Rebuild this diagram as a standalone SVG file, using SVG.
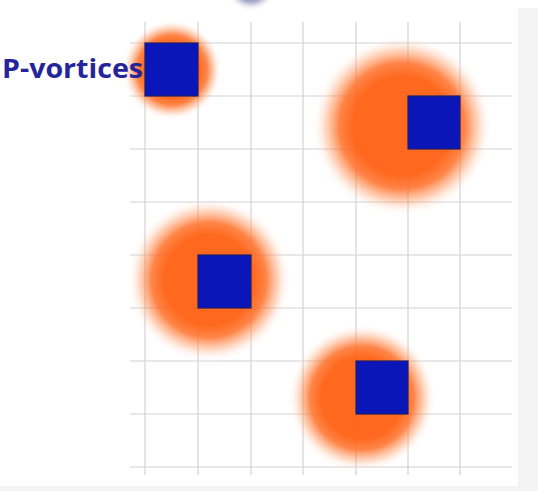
<svg xmlns="http://www.w3.org/2000/svg" width="538" height="491" viewBox="0 0 538 491">
  <defs>
    <radialGradient id="glow" cx="0.5" cy="0.5" r="0.5">
      <stop offset="0" stop-color="#ff6418" stop-opacity="0.97"/>
      <stop offset="0.55" stop-color="#ff6418" stop-opacity="0.97"/>
      <stop offset="0.7" stop-color="#ff6a20" stop-opacity="0.82"/>
      <stop offset="0.85" stop-color="#ff8a4a" stop-opacity="0.33"/>
      <stop offset="1" stop-color="#ffffff" stop-opacity="0"/>
    </radialGradient>
    <filter id="soft" x="-50%" y="-50%" width="200%" height="200%">
      <feGaussianBlur stdDeviation="3"/>
    </filter>
    <style>
      .grid line { stroke: #d2d2d6; stroke-width: 1.2; }
      .blob { fill: url(#glow); }
      .vortex { fill: #0a16b8; stroke: #1c1e6a; stroke-width: 1.2; }
      .label { font-family: "Open Sans", "Liberation Sans", sans-serif; font-weight: bold; font-size: 27px; fill: #26249a; }
    </style>
  </defs>
  <rect width="538" height="491" fill="#ffffff"/>
  <rect x="518" y="8" width="20" height="483" fill="#f3f3f4"/>
  <rect x="0" y="486" width="538" height="5" fill="#f3f3f4"/>
  <ellipse cx="251" cy="-12" rx="18" ry="16" fill="#8a90b8" filter="url(#soft)"/>

  <g id="grid" class="grid">
    <line x1="145" y1="22" x2="145" y2="475"/>
    <line x1="198" y1="22" x2="198" y2="475"/>
    <line x1="251" y1="22" x2="251" y2="475"/>
    <line x1="303" y1="22" x2="303" y2="475"/>
    <line x1="356" y1="22" x2="356" y2="475"/>
    <line x1="408" y1="22" x2="408" y2="475"/>
    <line x1="460" y1="22" x2="460" y2="475"/>
    <line x1="130" y1="43" x2="512" y2="43"/>
    <line x1="130" y1="96" x2="512" y2="96"/>
    <line x1="130" y1="149" x2="512" y2="149"/>
    <line x1="130" y1="202" x2="512" y2="202"/>
    <line x1="130" y1="255" x2="512" y2="255"/>
    <line x1="130" y1="308" x2="512" y2="308"/>
    <line x1="130" y1="361" x2="512" y2="361"/>
    <line x1="130" y1="414" x2="512" y2="414"/>
    <line x1="130" y1="467" x2="512" y2="467"/>
  </g>

  <g id="blobs">
    <circle class="blob" cx="172" cy="70" r="50"/>
    <circle class="blob" cx="402" cy="126" r="90"/>
    <circle class="blob" cx="209" cy="280" r="82"/>
    <circle class="blob" cx="362" cy="398" r="74"/>
  </g>

  <g id="vortex1"><rect class="vortex" x="145" y="43" width="53" height="53"/></g>
  <g id="vortex2"><rect class="vortex" x="408" y="96" width="52" height="53"/></g>
  <g id="vortex3"><rect class="vortex" x="198" y="255" width="53" height="53"/></g>
  <g id="vortex4"><rect class="vortex" x="356" y="361" width="52" height="53"/></g>

  <g id="label"><text class="label" x="2" y="78" textLength="141" lengthAdjust="spacingAndGlyphs">P-vortices</text></g>
</svg>
